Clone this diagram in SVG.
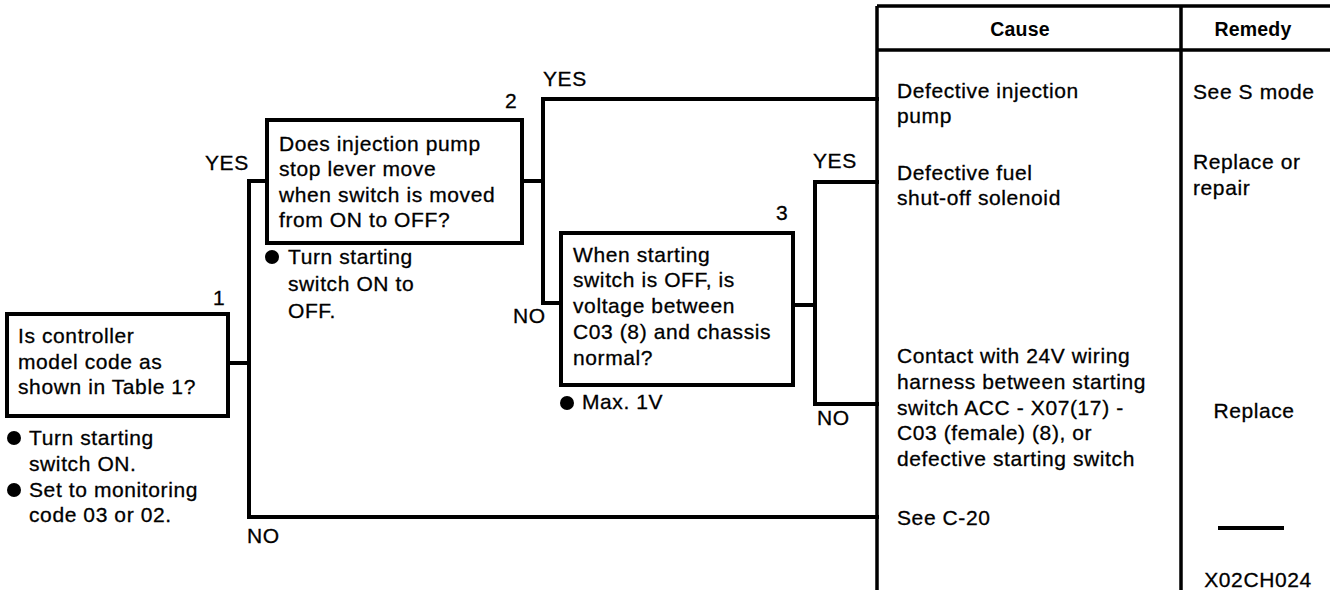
<svg xmlns="http://www.w3.org/2000/svg" width="1330" height="590" viewBox="0 0 1330 590">
<style>
text{font-family:"Liberation Sans",Arial,sans-serif;font-size:21px;letter-spacing:0.6px;fill:#000;stroke:#000;stroke-width:0.3}
.hd{font-weight:bold;font-size:19.5px;letter-spacing:0.2px;stroke-width:0}
.mid{text-anchor:middle}
.box{fill:#fff;stroke:#000;stroke-width:4}
.ln{fill:none;stroke:#000;stroke-width:4;stroke-linecap:square;stroke-linejoin:miter}
.tb{fill:none;stroke:#000;stroke-width:3.5}
</style>
<rect width="1330" height="590" fill="#fff"/>
<g id="connectors">
<path class="ln" d="M228 363 H249"/>
<path class="ln" d="M267 181 H249 V517 H877"/>
<path class="ln" d="M522 181 H543"/>
<path class="ln" d="M877 99 H543 V303 H561"/>
<path class="ln" d="M793 305 H815"/>
<path class="ln" d="M877 182 H815 V404 H877"/>
<text x="205" y="170">YES</text>
<text x="247" y="543">NO</text>
<text x="543" y="86">YES</text>
<text x="513" y="323">NO</text>
<text x="813" y="168">YES</text>
<text x="817" y="425">NO</text>
</g>
<g id="node1">
<rect class="box" x="7" y="314" width="221" height="102"/>
<text x="213" y="305">1</text>
<text x="18" y="343">Is controller</text>
<text x="18" y="369">model code as</text>
<text x="18" y="394">shown in Table 1?</text>
<circle cx="14" cy="438" r="7"/>
<text x="29" y="445">Turn starting</text>
<text x="29" y="471">switch ON.</text>
<circle cx="14" cy="490" r="7"/>
<text x="29" y="497">Set to monitoring</text>
<text x="29" y="522">code 03 or 02.</text>
</g>
<g id="node2">
<rect class="box" x="267" y="120" width="255" height="123"/>
<text x="505" y="108">2</text>
<text x="279" y="151">Does injection pump</text>
<text x="279" y="176">stop lever move</text>
<text x="279" y="202">when switch is moved</text>
<text x="279" y="227">from ON to OFF?</text>
<circle cx="272" cy="257" r="7"/>
<text x="288" y="264">Turn starting</text>
<text x="288" y="291">switch ON to</text>
<text x="288" y="318">OFF.</text>
</g>
<g id="node3">
<rect class="box" x="561" y="233" width="232" height="152"/>
<text x="776" y="220">3</text>
<text x="573" y="262">When starting</text>
<text x="573" y="287">switch is OFF, is</text>
<text x="573" y="313">voltage between</text>
<text x="573" y="339">C03 (8) and chassis</text>
<text x="573" y="365">normal?</text>
<circle cx="567" cy="403" r="7"/>
<text x="582" y="409">Max. 1V</text>
</g>
<g id="table">
<path class="tb" d="M877 6 H1330 M877 6 V590 M877 50 H1330 M1181 6 V590"/>
<text class="hd mid" x="1020" y="36">Cause</text>
<text class="hd mid" x="1253" y="36">Remedy</text>
<text x="897" y="98">Defective injection</text>
<text x="897" y="123">pump</text>
<text x="897" y="180">Defective fuel</text>
<text x="897" y="205">shut-off solenoid</text>
<text x="897" y="363">Contact with 24V wiring</text>
<text x="897" y="389">harness between starting</text>
<text x="897" y="415">switch ACC - X07(17) -</text>
<text x="897" y="440">C03 (female) (8), or</text>
<text x="897" y="466">defective starting switch</text>
<text x="897" y="525">See C-20</text>
<text x="1193" y="99">See S mode</text>
<text x="1193" y="169">Replace or</text>
<text x="1193" y="195">repair</text>
<text class="mid" x="1254" y="418">Replace</text>
<path d="M1218 528 H1284" stroke="#000" stroke-width="4"/>
<text class="mid" x="1258" y="587">X02CH024</text>
</g>
</svg>
